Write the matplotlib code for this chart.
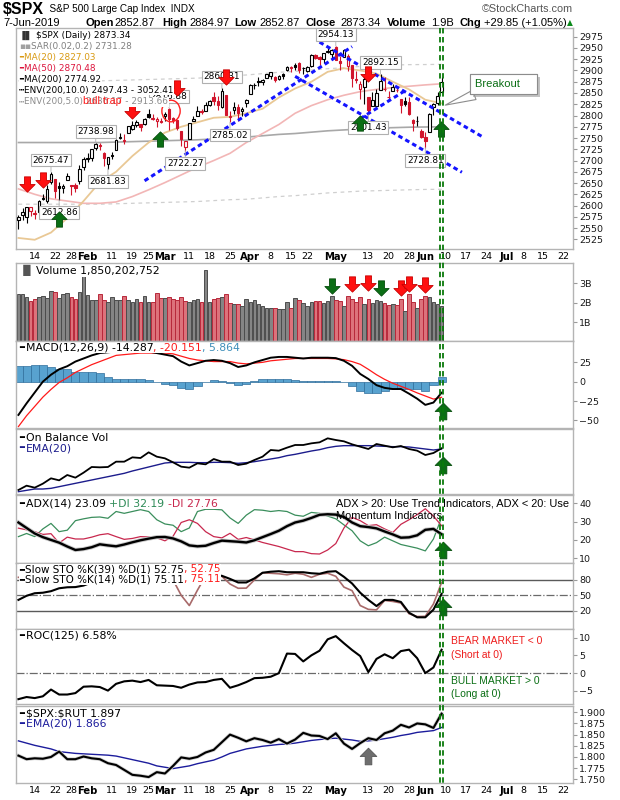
#!/usr/bin/env python3
"""
plot.py
S&P 500 ($SPX) daily chart, 7-Jun-2019, StockCharts-style stack of panels:
price + MAs, volume, MACD, OBV, ADX, slow stochastics, ROC and $SPX:$RUT.
"""
import numpy as np
import pandas as pd
import matplotlib
matplotlib.use("Agg")
import matplotlib.pyplot as plt
from matplotlib.path import Path
from matplotlib.patches import Ellipse
from matplotlib.lines import Line2D
from matplotlib.text import Annotation
from matplotlib import patheffects
from matplotlib.transforms import blended_transform_factory

# ══════════════════════════════════════════════════════
#  CALENDAR
# ══════════════════════════════════════════════════════
HOLIDAYS = ["2019-01-21", "2019-02-18", "2019-04-19", "2019-05-27", "2019-07-04"]
DAYS = pd.bdate_range("2019-01-08", "2019-07-31", freq="C", holidays=HOLIDAYS)
N_DATA = 105          # Jan 8 .. Jun 7 2019
PREV_CLOSE = 2549.69  # close of Jan 7, colours the first candle


def day(d):
    return DAYS.get_loc(pd.Timestamp(d))


TICK_DATES = ["2019-01-14", "2019-01-22", "2019-01-28", "2019-02-01", "2019-02-11",
              "2019-02-19", "2019-02-25", "2019-03-01", "2019-03-11", "2019-03-18",
              "2019-03-25", "2019-04-01", "2019-04-08", "2019-04-15", "2019-04-22",
              "2019-05-01", "2019-05-13", "2019-05-20", "2019-05-28", "2019-06-03",
              "2019-06-10", "2019-06-17", "2019-06-24", "2019-07-01", "2019-07-08",
              "2019-07-15", "2019-07-22"]
TICK_LABELS = ["14", "22", "28", "Feb", "11", "19", "25", "Mar", "11", "18", "25", "Apr",
               "8", "15", "22", "May", "13", "20", "28", "Jun", "10", "17", "24", "Jul",
               "8", "15", "22"]

# ══════════════════════════════════════════════════════
#  PRICE DATA (daily)
# ══════════════════════════════════════════════════════
OPEN = [2568.11, 2580.00, 2573.51, 2588.11, 2580.31, 2585.10, 2614.75, 2609.28, 2651.27, 2657.88,
        2643.48, 2638.84, 2657.44, 2644.97, 2644.89, 2653.62, 2685.49, 2702.32, 2706.49, 2728.34,
        2735.05, 2717.53, 2692.36, 2712.40, 2722.61, 2750.30, 2743.50, 2760.24, 2769.28, 2779.05,
        2780.67, 2780.67, 2804.35, 2792.36, 2787.50, 2788.11, 2798.22, 2814.37, 2794.41, 2790.27,
        2766.53, 2730.79, 2747.61, 2787.34, 2799.78, 2810.38, 2810.79, 2822.61, 2840.76, 2831.34,
        2819.72, 2844.52, 2796.01, 2812.66, 2819.72, 2809.40, 2828.27, 2848.63, 2868.24, 2876.09,
        2873.99, 2884.16, 2888.46, 2886.58, 2881.37, 2891.92, 2900.86, 2908.32, 2912.26, 2916.04,
        2904.81, 2898.78, 2909.99, 2934.00, 2928.99, 2925.81, 2940.58, 2937.14, 2952.33, 2922.16,
        2929.21, 2908.89, 2913.03, 2879.61, 2859.84, 2863.10, 2840.19, 2820.12, 2820.38, 2855.80,
        2858.60, 2841.94, 2854.02, 2856.06, 2836.70, 2832.41, 2830.03, 2790.25, 2786.94, 2766.15,
        2751.53, 2762.64, 2818.09, 2828.51, 2852.87]
HIGH = [2579.82, 2595.32, 2597.82, 2596.27, 2589.32, 2613.08, 2625.76, 2645.06, 2675.47, 2657.88,
        2653.19, 2647.20, 2672.38, 2644.97, 2650.93, 2690.44, 2708.95, 2716.66, 2724.99, 2738.98,
        2738.08, 2719.32, 2708.07, 2718.05, 2748.19, 2761.85, 2757.90, 2775.66, 2787.33, 2789.88,
        2781.58, 2794.20, 2813.49, 2803.12, 2795.76, 2793.73, 2808.02, 2816.88, 2796.44, 2790.27,
        2766.53, 2744.13, 2784.00, 2798.32, 2821.24, 2815.00, 2830.73, 2835.41, 2852.42, 2843.54,
        2860.31, 2846.16, 2809.79, 2829.87, 2825.56, 2819.71, 2836.03, 2869.40, 2872.90, 2885.25,
        2881.28, 2893.24, 2895.95, 2886.88, 2889.71, 2893.42, 2910.54, 2909.60, 2916.06, 2918.00,
        2908.40, 2909.51, 2936.31, 2936.83, 2933.10, 2939.88, 2949.52, 2948.22, 2954.13, 2931.68,
        2947.85, 2937.32, 2913.03, 2897.96, 2875.97, 2891.31, 2840.19, 2852.54, 2858.68, 2892.15,
        2885.48, 2853.86, 2868.88, 2865.47, 2836.70, 2841.36, 2840.51, 2792.03, 2799.00, 2768.98,
        2763.07, 2804.49, 2827.28, 2852.10, 2884.97]
LOW = [2547.56, 2568.89, 2562.02, 2577.40, 2570.41, 2585.10, 2612.68, 2606.36, 2647.58, 2617.27,
       2612.86, 2627.01, 2657.33, 2624.06, 2631.05, 2648.34, 2678.65, 2696.88, 2698.75, 2724.03,
       2724.15, 2687.26, 2681.83, 2703.79, 2722.61, 2748.63, 2736.50, 2760.24, 2767.29, 2774.06,
       2764.55, 2779.11, 2794.99, 2789.47, 2775.13, 2782.51, 2787.38, 2767.66, 2782.97, 2768.69,
       2732.56, 2722.27, 2747.61, 2786.73, 2799.78, 2803.46, 2810.79, 2821.99, 2823.27, 2812.43,
       2817.38, 2800.47, 2785.02, 2803.99, 2787.72, 2798.77, 2819.23, 2848.63, 2858.75, 2865.17,
       2867.14, 2882.99, 2880.78, 2873.33, 2879.13, 2881.99, 2898.37, 2896.48, 2900.71, 2895.45,
       2891.90, 2896.35, 2908.53, 2926.05, 2912.84, 2917.56, 2939.35, 2924.11, 2923.36, 2900.50,
       2929.21, 2898.21, 2862.60, 2873.28, 2836.40, 2825.39, 2801.43, 2820.12, 2815.08, 2855.80,
       2854.23, 2831.29, 2854.02, 2851.11, 2805.49, 2820.19, 2801.58, 2766.06, 2776.74, 2750.52,
       2728.81, 2762.64, 2800.92, 2822.45, 2852.87]
CLOSE = [2574.41, 2584.96, 2596.64, 2596.26, 2582.61, 2610.30, 2616.10, 2635.96, 2670.71, 2632.90,
         2638.70, 2642.33, 2664.76, 2643.85, 2640.00, 2681.05, 2704.10, 2706.53, 2724.87, 2737.70,
         2731.61, 2706.05, 2707.88, 2709.80, 2744.73, 2753.03, 2745.73, 2775.60, 2779.76, 2784.70,
         2774.88, 2792.67, 2796.11, 2793.90, 2792.38, 2784.49, 2803.69, 2792.81, 2789.65, 2771.45,
         2748.93, 2743.07, 2783.30, 2791.52, 2810.92, 2808.48, 2822.48, 2832.94, 2832.57, 2824.23,
         2854.88, 2800.71, 2798.36, 2818.46, 2805.37, 2815.44, 2834.40, 2867.19, 2867.24, 2873.40,
         2879.39, 2892.74, 2895.77, 2878.20, 2888.21, 2888.32, 2907.41, 2905.58, 2907.06, 2900.45,
         2905.03, 2907.97, 2933.68, 2927.25, 2926.17, 2939.88, 2943.03, 2945.83, 2923.73, 2917.52,
         2945.64, 2932.47, 2884.05, 2879.42, 2870.72, 2881.40, 2811.87, 2834.41, 2850.96, 2876.32,
         2859.53, 2840.23, 2864.36, 2856.27, 2822.24, 2826.06, 2802.39, 2783.02, 2788.86, 2752.06,
         2744.45, 2803.27, 2826.15, 2843.49, 2873.34]
VOLUME_B = [2.45, 2.45, 2.30, 2.10, 2.20, 2.30, 2.35, 2.25, 2.60, 2.55,
            2.25, 2.45, 2.50, 2.30, 2.20, 2.55, 3.40, 2.40, 2.15, 2.15,
            2.45, 2.15, 2.05, 2.30, 2.15, 2.15, 2.35, 2.15, 2.05, 2.20,
            2.05, 2.35, 2.05, 2.05, 2.50, 2.25, 2.25, 2.30, 2.20, 2.15,
            2.30, 2.10, 2.05, 2.15, 2.20, 2.05, 3.70, 2.05, 2.20, 2.25,
            2.30, 2.45, 2.00, 1.95, 1.95, 1.85, 2.20, 2.05, 2.15, 1.95,
            1.85, 1.75, 1.75, 1.70, 1.65, 1.65, 2.05, 1.75, 2.25, 2.15,
            2.00, 1.85, 2.05, 2.10, 2.10, 2.00, 2.10, 2.35, 2.15, 2.10,
            1.85, 2.35, 2.20, 2.05, 2.30, 1.95, 2.20, 2.00, 2.15, 2.10,
            2.00, 1.90, 1.95, 1.90, 2.20, 1.55, 2.45, 2.05, 1.75, 2.20,
            2.35, 2.30, 2.05, 1.95, 1.85]

# ── price overlays, read every 4th trading day ─────────
MA20 = [2528, 2524, 2540, 2572, 2610, 2652, 2675, 2710, 2740, 2762, 2775, 2785, 2795, 2797,
        2805, 2815, 2840, 2860, 2875, 2897, 2905, 2900, 2893, 2875, 2858, 2835, 2827.03]
MA50 = [2637, 2625, 2615, 2610, 2605, 2605, 2608, 2620, 2635, 2651, 2668, 2685, 2700, 2716,
        2740, 2760, 2780, 2805, 2822, 2835, 2845, 2853, 2858, 2862, 2865, 2868, 2870.48]
MA200 = [2740, 2740, 2740, 2740, 2740, 2740, 2741, 2742, 2743, 2744, 2745, 2746, 2748, 2750,
         2752, 2755, 2758, 2760, 2763, 2766, 2768, 2770, 2772, 2773, 2774, 2774.5, 2774.92]
ENV5_UP = [2877, 2877, 2877, 2877, 2877, 2877, 2878, 2879, 2880, 2881, 2882, 2883, 2885, 2888,
           2890, 2893, 2896, 2898, 2901, 2904, 2906, 2909, 2911, 2912, 2913, 2913.2, 2913.66]
ENV5_LO = [2603, 2603, 2603, 2603, 2603, 2603, 2604, 2605, 2606, 2607, 2608, 2609, 2611, 2613,
           2614, 2617, 2620, 2622, 2625, 2628, 2630, 2632, 2633, 2634, 2635, 2635.8, 2636.17]

# ══════════════════════════════════════════════════════
#  INDICATORS, read every 2nd trading day
# ══════════════════════════════════════════════════════
MACD = [-43, -28, -14, 0, 9, 16, 20, 26, 30, 34, 37, 38, 39, 40, 40, 40, 39, 37, 35, 33,
        26, 21, 24, 27, 28, 27, 24, 19, 21, 25, 28, 31, 32, 32, 31, 30, 31, 31, 31, 30.5,
        27, 20.5, 10, 3.5, -4.5, -8, -9.5, -9.5, -15.5, -22, -30, -27, -14.287]
MACD_SIGNAL = [-58, -44, -32, -20, -10, -1, 5, 12, 17, 22, 26, 30, 34, 35, 36, 37, 37, 37, 37, 36,
               33, 30, 28, 27, 26, 26, 26, 24, 23, 24, 25, 27, 28, 29, 30, 30, 30, 30, 30, 29.5,
               28.5, 26, 22.5, 16, 9, 3, -2, -6, -10, -14.5, -18.5, -22.5, -20.151]
MACD_HIST = [20, 20, 21, 21, 19, 17, 16, 13, 12, 12, 11, 6, 4, 4, 3, 3, 2, -1, -3, -4,
             -8, -9, -5, -1, 2, 1, -2, -4, -3, 1, 3, 4, 4, 3, 2, 1, 1, 1, 1, 1,
             -1, -5, -12, -14, -15, -12, -10, -9, -9, -10, -12, -4, 5.864]
OBV = [1.2, 2.5, 1.9, 3.1, 4.7, 4.1, 5.7, 4.9, 6.4, 8.1, 8.0, 8.1, 9.7, 9.7, 11.0, 10.8, 12.5,
       11.2, 10.7, 9.5, 8.2, 7.9, 9.2, 8.9, 10.5, 9.7, 9.7, 8.7, 9.1, 10.2, 11.2, 13.2, 13.0,
       13.9, 14.7, 14.7, 15.2, 15.5, 16.7, 16.2, 15.8, 14.9, 14.2, 13.5, 15.0, 14.5, 14.0, 14.4,
       13.5, 13.0, 11.7, 12.3, 13.7]
OBV_EMA = [0.7, 1.1, 1.5, 1.5, 1.7, 2.2, 2.7, 3.2, 3.7, 4.2, 4.7, 5.2, 5.7, 6.2, 6.9, 7.5, 8.1,
           8.7, 9.3, 9.5, 9.5, 9.5, 9.4, 9.4, 9.5, 9.5, 9.4, 9.2, 9.4, 9.7, 10.1, 10.5, 10.9,
           11.5, 11.9, 12.4, 12.9, 13.3, 13.9, 14.3, 14.5, 14.5, 14.5, 14.5, 14.4, 14.3, 14.2,
           14.2, 14.1, 13.8, 13.5, 13.2, 13.5]
ADX = [29.5, 26.5, 23.5, 21.5, 20, 18.5, 16.4, 14.5, 15, 16, 17.6, 17, 16.5, 17.5, 18.7, 19.8,
       20.7, 21.5, 21.6, 20.8, 19.2, 17, 16.5, 16.8, 18.3, 19.6, 19.3, 19, 18.6, 19.8, 21.5, 23.2,
       25, 27.5, 29.5, 30.5, 32, 33.7, 34, 33.8, 32.5, 29.5, 27.5, 27, 26.3, 24.6, 23, 21.2, 21.4,
       22.5, 25.5, 26, 23.09]
PLUS_DI = [21.8, 23.5, 21.8, 26, 29, 24.5, 25.3, 30.5, 31.5, 32.3, 32.5, 31.8, 35.5, 34.5, 35.5,
           36.5, 35.5, 31, 28.7, 28, 24.5, 26.5, 35.5, 36.7, 36.7, 36.4, 32, 29, 33.5, 36.5, 36.2,
           35.5, 36, 35.5, 33.5, 32.9, 35, 34.5, 33, 31.5, 28.2, 25, 19.5, 16.8, 18.5, 21.5, 19.5,
           17.5, 16.5, 15.5, 14, 20.5, 32.19]
MINUS_DI = [26.4, 25.5, 24.5, 23, 23.4, 18.3, 21.5, 20.5, 20.5, 21.5, 22.8, 23.4, 21.8, 20.3,
            20.8, 21.8, 21.6, 21.1, 19.5, 22, 29.5, 31, 29, 24.5, 21.8, 21.1, 23.6, 20.3, 21.3,
            20, 18.6, 17.5, 16.4, 15, 13.6, 13.6, 12.5, 12.3, 14.5, 18, 26.5, 32.3, 30.5, 27.8,
            28.3, 26, 24, 28.5, 31, 33.8, 37, 33, 27.76]
STO_39 = [41, 49, 54, 55, 58, 63.7, 65.6, 66, 69, 75, 82, 88, 92, 94, 96, 97, 97, 96, 95, 93,
          88, 90, 90, 90, 90, 88, 82, 75, 75, 83, 94, 96, 97, 95, 95, 95, 93, 92, 96, 97,
          86, 73, 55, 41, 29, 41, 41, 37, 16, 7, 7, 22, 52.75]
STO_14 = [85, 88, 85, 90, 92, 88, 90, 92, 95, 93, 95, 92, 94, 95, 93, 96, 95, 92, 88, 80,
          50, 30, 60, 88, 88, 87, 72, 63.7, 64, 80, 94, 93, 92, 90, 93, 91, 85, 91, 93, 87,
          66, 59, 30, 22.5, 21.5, 40, 38, 35, 14, 8.5, 9, 33, 75.11]
ROC_125 = [-7.3, -6.7, -7.0, -6.5, -4.6, -6.0, -6.0, -5.6, -3.8, -3.7, -3.9, -4.9, -3.0, -2.3,
           -2.1, -2.5, -1.9, -3.4, -3.5, -3.6, -4.1, -3.2, -2.6, -2.5, -1.9, -1.6, -4.1, -3.4,
           -2.5, -1.4, -1.3, -1.0, 0.0, 5.5, 5.4, 3.3, 5.0, 6.3, 9.5, 10.4, 8.4, 6.5, 4.8, 0.3,
           4.0, 5.3, 4.2, 6.2, 6.6, 4.2, 0.0, 1.6, 6.58]
SPX_RUT = [1.803, 1.795, 1.797, 1.796, 1.800, 1.812, 1.795, 1.795, 1.801, 1.797, 1.795, 1.786,
           1.782, 1.771, 1.760, 1.758, 1.755, 1.766, 1.763, 1.780, 1.799, 1.796, 1.800, 1.810,
           1.816, 1.833, 1.850, 1.843, 1.835, 1.842, 1.838, 1.832, 1.840, 1.830, 1.839, 1.854,
           1.848, 1.847, 1.840, 1.853, 1.830, 1.818, 1.831, 1.842, 1.838, 1.853, 1.859, 1.872,
           1.866, 1.875, 1.873, 1.865, 1.897]
SPX_RUT_EMA = [1.836, 1.831, 1.826, 1.822, 1.818, 1.812, 1.810, 1.808, 1.807, 1.806, 1.805,
               1.804, 1.802, 1.798, 1.794, 1.790, 1.786, 1.780, 1.777, 1.774, 1.777, 1.780,
               1.785, 1.789, 1.793, 1.800, 1.808, 1.813, 1.818, 1.821, 1.824, 1.826, 1.828,
               1.829, 1.831, 1.834, 1.837, 1.839, 1.841, 1.842, 1.840, 1.838, 1.835, 1.836,
               1.838, 1.841, 1.844, 1.848, 1.851, 1.855, 1.857, 1.859, 1.866]

# ══════════════════════════════════════════════════════
#  ANNOTATIONS (analyst markup)
# ══════════════════════════════════════════════════════
HIGH_TAGS = [("2019-01-18", 2675.47), ("2019-02-05", 2738.98), ("2019-03-04", 2816.88),
             ("2019-03-21", 2860.31), ("2019-05-01", 2954.13), ("2019-05-16", 2892.15)]
LOW_TAGS = [("2019-01-23", 2612.86), ("2019-02-08", 2681.83), ("2019-03-08", 2722.27),
            ("2019-03-25", 2785.02), ("2019-05-13", 2801.43), ("2019-06-03", 2728.81)]
TRENDLINES = [("2019-02-22", 2655, "2019-05-07", 2953),
              ("2019-04-25", 2963, "2019-06-21", 2753),
              ("2019-04-16", 2887, "2019-06-14", 2674),
              ("2019-05-09", 2793, "2019-05-24", 2855)]
PRICE_SELL = [("2019-01-10", 2648), ("2019-01-16", 2656), ("2019-02-19", 2811),
              ("2019-03-06", 2862), ("2019-03-22", 2886), ("2019-05-13", 2893)]
PRICE_BUY = [("2019-01-23", 2571), ("2019-02-28", 2748), ("2019-05-09", 2784),
             ("2019-06-07", 2770)]
VOL_GREEN_DOWN = [("2019-04-30", 2.85), ("2019-05-16", 2.74)]
VOL_RED_DOWN = [("2019-05-07", 2.96), ("2019-05-13", 3.03), ("2019-05-23", 2.77),
                ("2019-05-28", 2.95), ("2019-06-03", 2.90)]
SIGNAL_DAY = "2019-06-07"
MACD_BUY, OBV_BUY, ADX_BUY, STO_BUY = -38.5, 8.7, 14.5, 26.5
RUT_MARK = ("2019-05-13", 1.802)

# ══════════════════════════════════════════════════════
#  LAYOUT (pixels of the 620 x 800 canvas)
# ══════════════════════════════════════════════════════
W_PX, H_PX = 620, 800
LEFT_PX, RIGHT_PX = 16, 573
PANEL_PX = {
    "price": (28.3, 249), "vol": (263, 341), "macd": (341, 428), "obv": (429, 494),
    "adx": (495, 563), "sto": (563, 629), "roc": (629, 704), "rut": (706, 783),
}
XLIM = (-0.6, 136.3)
LABEL_FONT = 7.8     # indicator panel captions
LEGEND_FONT = 6.4    # price panel legend
ARIAL = ["Liberation Sans", "DejaVu Sans"]

fig = plt.figure(figsize=(W_PX / 100, H_PX / 100), dpi=100)
fig.patch.set_facecolor("white")


def add_panel(name, ylim):
    top, bot = PANEL_PX[name]
    ax = fig.add_axes([LEFT_PX / W_PX, 1 - bot / H_PX,
                       (RIGHT_PX - LEFT_PX) / W_PX, (bot - top) / H_PX])
    ax.set_xlim(*XLIM)
    ax.set_ylim(*ylim)
    for sp in ax.spines.values():
        sp.set_color("#b4b4b4")
        sp.set_linewidth(1.0)
    ax.yaxis.tick_right()
    ax.tick_params(axis="y", labelsize=6.8, length=3, width=0.8, color="#9a9a9a",
                   pad=1.5, labelcolor="#1a1a1a")
    ax.tick_params(axis="x", length=0, labelbottom=False)
    return ax


def label_row(ax, name, y_px, parts, size=LABEL_FONT, x_px=3):
    """Coloured label pieces written one after another, white background."""
    top, bot = PANEL_PX[name]
    box = dict(facecolor="white", edgecolor="none", pad=0.3)
    text, color = parts[0]
    prev = ax.text(x_px / (RIGHT_PX - LEFT_PX), 1 - y_px / (bot - top), text, color=color,
                   fontsize=size, transform=ax.transAxes, ha="left", va="center",
                   bbox=box, zorder=20)
    for text, color in parts[1:]:
        prev = ax.annotate(text, xy=(1, 0), xycoords=prev, ha="left", va="bottom",
                           color=color, fontsize=size, bbox=box, zorder=20,
                           annotation_clip=False)


DOWN_ARROW = Path([(-0.2, 0.5), (0.2, 0.5), (0.2, 0.0), (0.5, 0.0), (0.0, -0.5),
                   (-0.5, 0.0), (-0.2, 0.0), (-0.2, 0.5)], closed=True)
UP_ARROW = Path([(-0.2, -0.5), (0.2, -0.5), (0.2, 0.0), (0.5, 0.0), (0.0, 0.5),
                 (-0.5, 0.0), (-0.2, 0.0), (-0.2, -0.5)], closed=True)


def arrows(ax, pts, marker, face, edge, ms=11, dx=0.0):
    xs = [day(d) + dx for d, _ in pts]
    ys = [v for _, v in pts]
    ax.plot(xs, ys, ls="none", marker=marker, ms=ms, mfc=face, mec=edge, mew=0.6, zorder=9)


x = np.arange(N_DATA)
ind_x = np.arange(0, N_DATA, 2)
ovl_x = np.arange(0, N_DATA, 4)
o, h, l, c = map(np.array, (OPEN, HIGH, LOW, CLOSE))
prev_c = np.r_[PREV_CLOSE, c[:-1]]
up_day = c >= prev_c
line_col = np.where(up_day, "black", "#d1152c")
body_col = np.where(c > o, "white", line_col)

# ══════════════════════════════════════════════════════
#  PRICE PANEL
# ══════════════════════════════════════════════════════
ax_p = add_panel("price", (2503.5, 2993.7))
ax_p.set_yticks(np.arange(2525, 2976, 25))
ax_p.plot(ovl_x, ENV5_UP, color="#cfcfcf", lw=0.9, ls=(0, (3, 3)), zorder=1)
ax_p.plot(ovl_x, ENV5_LO, color="#cfcfcf", lw=0.9, ls=(0, (3, 3)), zorder=1)
ax_p.plot(ovl_x, MA200, color="#a8a8a8", lw=1.2, zorder=1)
ax_p.plot(ovl_x, MA50, color="#f2b6b6", lw=1.2, zorder=1)
ax_p.plot(ovl_x, MA20, color="#e9c895", lw=1.3, zorder=1)

ax_p.vlines(x, l, h, colors=line_col, lw=0.8, zorder=3)
ax_p.bar(x, np.maximum(np.abs(c - o), 0.8), bottom=np.minimum(o, c), width=0.62,
         facecolor=body_col, edgecolor=line_col, lw=0.8, zorder=4)

for d0, p0, d1, p1 in TRENDLINES:
    ax_p.plot([day(d0), day(d1)], [p0, p1], color="#1414ff", lw=2.2,
              ls=(0, (1.5, 1.1)), zorder=6)

tag_box = dict(boxstyle="square,pad=0.2", fc="white", ec="#b0b0b0", lw=0.8)
tag_line = dict(arrowstyle="-", color="#b0b0b0", lw=0.6, shrinkA=0, shrinkB=0)
for d, v in HIGH_TAGS:
    ax_p.annotate(f"{v:.2f}", xy=(day(d), v), xytext=(0, 5), textcoords="offset points",
                  ha="center", va="bottom", fontsize=6.4, bbox=tag_box,
                  arrowprops=tag_line, zorder=7)
for d, v in LOW_TAGS:
    ax_p.annotate(f"{v:.2f}", xy=(day(d), v), xytext=(0, -6), textcoords="offset points",
                  ha="center", va="top", fontsize=6.4, bbox=tag_box,
                  arrowprops=tag_line, zorder=7)

arrows(ax_p, PRICE_SELL, DOWN_ARROW, "#ff1010", "#c80000")
arrows(ax_p, PRICE_BUY, UP_ARROW, "#0a6e14", "#064d0c", dx=-0.1)

ax_p.add_patch(Ellipse((day("2019-03-04") + 0.5, 2810), 4.5, 48, fill=False,
                       ec="#ff2020", lw=1.0, zorder=8))
ax_p.text(day("2019-01-31") - 0.1, 2832, "bull trap", color="#ff1a1a", fontsize=7.7,
          family=ARIAL, ha="left", va="center", zorder=21)

bo = ax_p.annotate("Breakout    ", xy=(day(SIGNAL_DAY) + 0.9, 2823), xytext=(112.2, 2869),
                   textcoords="data", ha="left", va="center", color="#0a6e14",
                   fontsize=8, family=ARIAL,
                   bbox=dict(boxstyle="square,pad=0.45", fc="white", ec="#8c8c8c", lw=0.8),
                   arrowprops=dict(arrowstyle="wedge,tail_width=0.9,shrink_factor=0.5",
                                   fc="white", ec="#8c8c8c", lw=0.8, shrinkA=0, shrinkB=0),
                   annotation_clip=False, zorder=12)
bo.get_bbox_patch().set_path_effects(
    [patheffects.withSimplePatchShadow(offset=(2, -2), shadow_rgbFace="#9a9a9a", alpha=0.6),
     patheffects.Normal()])

legend_rows = [
    [("\u2590\u258c ", "#333333"), (r"\$SPX (Daily) 2873.34", "black")],
    [("\u25aa\u25aa", "#a0a0a0"), ("SAR(0.02,0.2) 2731.28", "#808080")],
    [("\u2501", "#d99a12"), ("MA(20) 2827.03", "#d99a12")],
    [("\u2501", "#dc143c"), ("MA(50) 2870.48", "#dc143c")],
    [("\u2501", "black"), ("MA(200) 2774.92", "black")],
    [("\u2505", "black"), ("ENV(200,10.0) 2497.43 - 3052.41", "black")],
    [("\u2505", "#a0a0a0"), ("ENV(200,5.0) 2636.17 - 2913.66", "#8c8c8c")],
]
for k, row in enumerate(legend_rows):
    label_row(ax_p, "price", 6.7 + 11.1 * k, row, size=LEGEND_FONT)

# ══════════════════════════════════════════════════════
#  VOLUME
# ══════════════════════════════════════════════════════
ax_v = add_panel("vol", (0.02, 4.05))
ax_v.bar(x, VOLUME_B, width=0.9, facecolor=np.where(up_day, "#858585", "#dd727b"),
         edgecolor=np.where(up_day, "#4d4d4d", "#b8283a"), lw=0.7, zorder=2)
ax_v.set_yticks([1, 2, 3])
ax_v.set_yticklabels(["1B", "2B", "3B"])
arrows(ax_v, VOL_GREEN_DOWN, DOWN_ARROW, "#0a6e14", "#064d0c")
arrows(ax_v, VOL_RED_DOWN, DOWN_ARROW, "#ff1010", "#c80000")
label_row(ax_v, "vol", 7.7, [("\u2590\u258c", "#555555"), ("Volume 1,850,202,752", "black")])

# ══════════════════════════════════════════════════════
#  MACD
# ══════════════════════════════════════════════════════
ax_m = add_panel("macd", (-59.9, 52.6))
ax_m.bar(ind_x, MACD_HIST, width=2.0, facecolor="#58a2cf", edgecolor="#2f6e9c", lw=0.5, zorder=2)
ax_m.plot(ind_x, MACD_SIGNAL, color="#ff1a1a", lw=0.9, zorder=3)
ax_m.plot(ind_x, MACD, color="black", lw=1.4, zorder=4)
ax_m.set_yticks([-50, -25, 0, 25])
arrows(ax_m, [(SIGNAL_DAY, MACD_BUY)], UP_ARROW, "#0a6e14", "#064d0c", ms=12, dx=0.3)
label_row(ax_m, "macd", 7, [("\u2501", "black"), ("MACD(12,26,9) -14.287", "black"),
                            (", -20.151", "#ff1a1a"), (", 5.864", "#3e8fba")])

# ══════════════════════════════════════════════════════
#  ON BALANCE VOLUME
# ══════════════════════════════════════════════════════
ax_o = add_panel("obv", (0, 19.5))
ax_o.set_yticks([])
ax_o.plot(ind_x, OBV_EMA, color="#1c1c8c", lw=1.0, zorder=3)
ax_o.plot(ind_x, OBV, color="black", lw=1.3, zorder=4)
arrows(ax_o, [(SIGNAL_DAY, OBV_BUY)], UP_ARROW, "#0a6e14", "#064d0c", ms=12, dx=0.3)
label_row(ax_o, "obv", 8.7, [("\u2501", "black"), ("On Balance Vol", "black")])
label_row(ax_o, "obv", 19.3, [("\u2501", "#1c1c8c"), ("EMA(20)", "#1c1c8c")])

# ══════════════════════════════════════════════════════
#  ADX
# ══════════════════════════════════════════════════════
ax_a = add_panel("adx", (7.4, 44.5))
ax_a.plot(ind_x, PLUS_DI, color="#3a8e5c", lw=0.9, zorder=3)
ax_a.plot(ind_x, MINUS_DI, color="#c8284e", lw=0.9, zorder=3)
ax_a.plot(ind_x, ADX, color="black", lw=1.7, zorder=4,
          path_effects=[patheffects.withStroke(linewidth=3, foreground="#c8c8c8")])
ax_a.set_yticks([10, 20, 30, 40])
arrows(ax_a, [(SIGNAL_DAY, ADX_BUY)], UP_ARROW, "#0a6e14", "#064d0c", ms=12, dx=0.3)
label_row(ax_a, "adx", 9, [("\u2501", "black"), ("ADX(14) 23.09 ", "black"),
                           ("+DI 32.19 ", "#2e8b57"), ("-DI 27.76", "#c8284e")])
ax_a.text(0.575, 0.868, "ADX > 20: Use Trend Indicators, ADX < 20: Use", transform=ax_a.transAxes,
          fontsize=7.9, family=ARIAL, ha="left", va="center", zorder=15)
ax_a.text(0.575, 0.69, "Momentum Indicators", transform=ax_a.transAxes,
          fontsize=7.9, family=ARIAL, ha="left", va="center", zorder=15)

# ══════════════════════════════════════════════════════
#  SLOW STOCHASTICS
# ══════════════════════════════════════════════════════
ax_s = add_panel("sto", (-15.8, 113))
for lvl in (20, 80):
    ax_s.axhline(lvl, color="#5a5a5a", lw=1.0, zorder=1)
ax_s.axhline(50, color="#6a6a6a", lw=0.9, ls="-.", zorder=1)
ax_s.plot(ind_x, STO_14, color="#a86a6a", lw=1.2, zorder=3)
ax_s.plot(ind_x, STO_39, color="black", lw=1.5, zorder=4)
ax_s.set_yticks([20, 50, 80])
arrows(ax_s, [(SIGNAL_DAY, STO_BUY)], UP_ARROW, "#0a6e14", "#064d0c", ms=12, dx=0.3)
label_row(ax_s, "sto", 6.3, [("\u2501", "black"), ("Slow STO %K(39) %D(1) 52.75", "black"),
                             (", 52.75", "#ff1a1a")], size=7.5)
label_row(ax_s, "sto", 16.3, [("\u2501", "black"), ("Slow STO %K(14) %D(1) 75.11", "black"),
                              (", 75.11", "#ff1a1a")], size=7.5)

# ══════════════════════════════════════════════════════
#  RATE OF CHANGE
# ══════════════════════════════════════════════════════
ax_r = add_panel("roc", (-8.66, 12.4))
ax_r.axhline(0, color="#6a6a6a", lw=0.9, ls="-.", zorder=1)
ax_r.plot(ind_x, ROC_125, color="black", lw=1.5, zorder=4)
ax_r.set_yticks([-5, 0, 5, 10])
label_row(ax_r, "roc", 6.7, [("\u2501", "black"), ("ROC(125) 6.58%", "black")])
roc_notes = [("BEAR MARKET < 0", 8.9, "#ee1c1c"), ("(Short at 0)", 5.1, "#ee1c1c"),
             ("BULL MARKET > 0", -2.2, "#0a6e14"), ("(Long at 0)", -5.8, "#0a6e14")]
for txt, yv, col in roc_notes:
    ax_r.text(106.2, yv, txt, color=col, fontsize=7.4, family=ARIAL, ha="left", va="center",
              zorder=15)

# ══════════════════════════════════════════════════════
#  $SPX:$RUT
# ══════════════════════════════════════════════════════
ax_u = add_panel("rut", (1.7417, 1.9141))
ax_u.plot(ind_x, SPX_RUT_EMA, color="#1c1c9c", lw=1.0, zorder=3)
ax_u.plot(ind_x, SPX_RUT, color="black", lw=1.5, zorder=4,
          path_effects=[patheffects.withStroke(linewidth=2.6, foreground="#d0d0d0")])
ax_u.set_yticks(np.arange(1.75, 1.901, 0.025))
ax_u.set_yticklabels([f"{t:.3f}" for t in np.arange(1.75, 1.901, 0.025)])
arrows(ax_u, [RUT_MARK], UP_ARROW, "#6e6e6e", "#555555", ms=12)
label_row(ax_u, "rut", 8, [("\u2501", "black"), (r"\$SPX:\$RUT 1.897", "black")])
label_row(ax_u, "rut", 18, [("\u2501", "#1c1c9c"), ("EMA(20) 1.866", "#1c1c9c")])

# ── date axes under price and last panel ─────────────
tick_pos = [day(d) for d in TICK_DATES]
for ax in (ax_p, ax_u):
    ax.set_xticks(tick_pos)
    ax.set_xticklabels(TICK_LABELS, fontsize=6.8)
    ax.tick_params(axis="x", length=0, pad=2.5, labelbottom=True)
    for lab in ax.get_xticklabels():
        if lab.get_text().isalpha():
            lab.set_fontweight("bold")
            lab.set_fontsize(7.2)

# ── green signal lines through every panel ───────────
trans = blended_transform_factory(ax_p.transData, fig.transFigure)
for dx in (-0.3, 0.45):
    fig.add_artist(Line2D([day(SIGNAL_DAY) + dx] * 2,
                          [1 - PANEL_PX["price"][0] / H_PX, 1 - PANEL_PX["rut"][1] / H_PX],
                          transform=trans, color="#0b7a0b", lw=1.3, ls=(0, (3, 2)), zorder=30))

# ══════════════════════════════════════════════════════
#  HEADER
# ══════════════════════════════════════════════════════
def head(x_px, y_px, s, **kw):
    kw.setdefault("family", ARIAL)
    kw.setdefault("fontsize", 8)
    return fig.text(x_px / W_PX, 1 - y_px / H_PX, s, va="center", **kw)


t_sym = head(3, 9.5, r"\$SPX", fontsize=11.5, fontweight="bold")
fig.add_artist(Annotation("  S&P 500 Large Cap Index  INDX", xy=(1, 0.18), xycoords=t_sym,
                          ha="left", va="bottom", family=ARIAL, fontsize=7.2))
head(573, 9.5, "\u00a9StockCharts.com", fontsize=7.8, color="#555555", ha="right")
header_line = [(3, "7-Jun-2019", "normal"), (85, "Open", "bold"), (114.6, "2852.87", "normal"),
               (162, "High", "bold"), (189, "2884.97", "normal"), (234, "Low", "bold"),
               (259.7, "2852.87", "normal"), (306, "Close", "bold"), (340, "2873.34", "normal"),
               (386.6, "Volume", "bold"), (430.8, "1.9B", "normal"), (459.7, "Chg", "bold"),
               (484, "+29.85 (+1.05%)", "normal")]
for xp, s, w in header_line:
    head(xp, 22.7, s, fontweight=w)
head(573, 22.3, "\u25b2", fontsize=5.5, color="#0a8a1a", ha="right", family="DejaVu Sans")

fig.savefig("out.png", dpi=100, facecolor="white")
